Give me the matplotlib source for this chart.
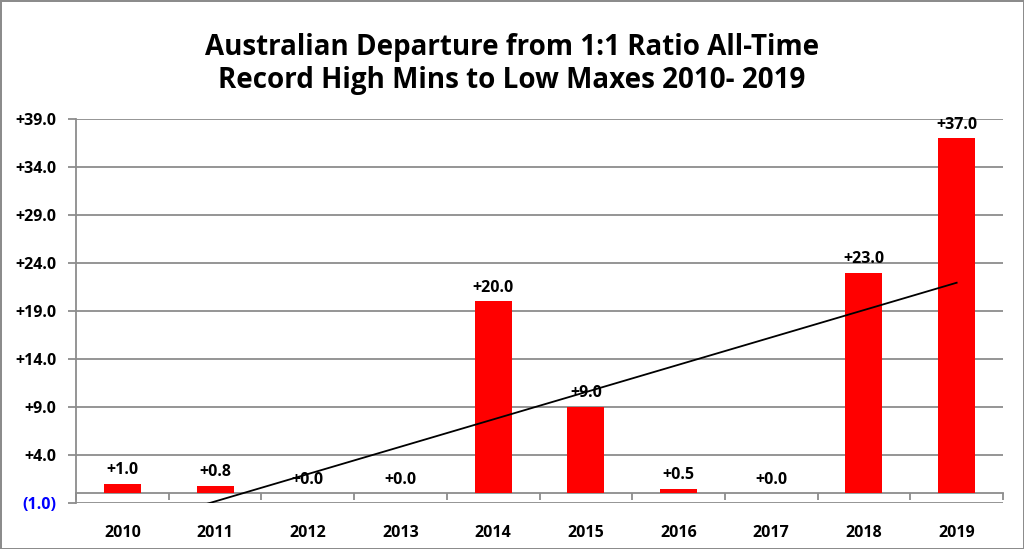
import matplotlib.pyplot as plt
import numpy as np

plt.rcParams['font.family'] = ['Open Sans', 'DejaVu Sans']

# data
years = ['2010', '2011', '2012', '2013', '2014', '2015', '2016', '2017', '2018', '2019']
departure = [1.0, 0.8, 0.0, 0.0, 20.0, 9.0, 0.5, 0.0, 23.0, 37.0]
y_ticks = [-1, 4, 9, 14, 19, 24, 29, 34, 39]

fig = plt.figure(figsize=(10.24, 5.49), dpi=100)
fig.patch.set_edgecolor('#8c8c8c')
fig.patch.set_linewidth(2)
ax = fig.add_axes([76 / 1024, 1 - 503 / 549, 927 / 1024, 384 / 549])

x = np.arange(len(years))
ax.bar(x, departure, width=0.4, color='#ff0000', zorder=3)

# linear trendline
coef = np.polyfit(x, departure, 1)
ax.plot(x, np.polyval(coef, x), color='black', lw=1.3, zorder=5)

for xi, v in zip(x, departure):
    ax.annotate(f'+{v:.1f}', (xi, v), xytext=(0, 4), textcoords='offset points',
                ha='center', va='bottom', fontsize=11.5, fontweight='bold', zorder=4)

ax.set_xlim(-0.5, len(years) - 0.5)
ax.set_ylim(-1, 39)
ax.set_yticks(y_ticks)
ylabels = ['(1.0)' if t < 0 else f'+{t:.1f}' for t in y_ticks]
ax.set_yticklabels(ylabels, fontsize=11.5, fontweight='bold')
ax.get_yticklabels()[0].set_color('#0000ff')
ax.yaxis.grid(True, color='#8c8c8c', lw=1.3, zorder=0)
ax.tick_params(axis='y', length=6, color='#8c8c8c', width=1.3, pad=8)

ax.spines['bottom'].set_position(('data', 0))
ax.spines['bottom'].set_color('#8c8c8c')
ax.spines['bottom'].set_linewidth(1.3)
ax.spines['left'].set_color('#8c8c8c')
ax.spines['left'].set_linewidth(1.3)
ax.spines['top'].set_visible(False)
ax.spines['right'].set_visible(False)

ax.set_xticks(x)
ax.set_xticklabels(years, fontsize=11.5, fontweight='bold')
ax.set_xticks(np.arange(-0.5, len(years)), minor=True)
ax.tick_params(axis='x', which='major', length=0, pad=23)
ax.tick_params(axis='x', which='minor', length=5, color='#8c8c8c', width=1.3)

fig.text(0.5, 1 - 64 / 549, 'Australian Departure from 1:1 Ratio All-Time\nRecord High Mins to Low Maxes 2010- 2019',
         ha='center', va='center', fontsize=20, fontweight='bold', linespacing=1.2)

fig.savefig('out.png', dpi=100)
